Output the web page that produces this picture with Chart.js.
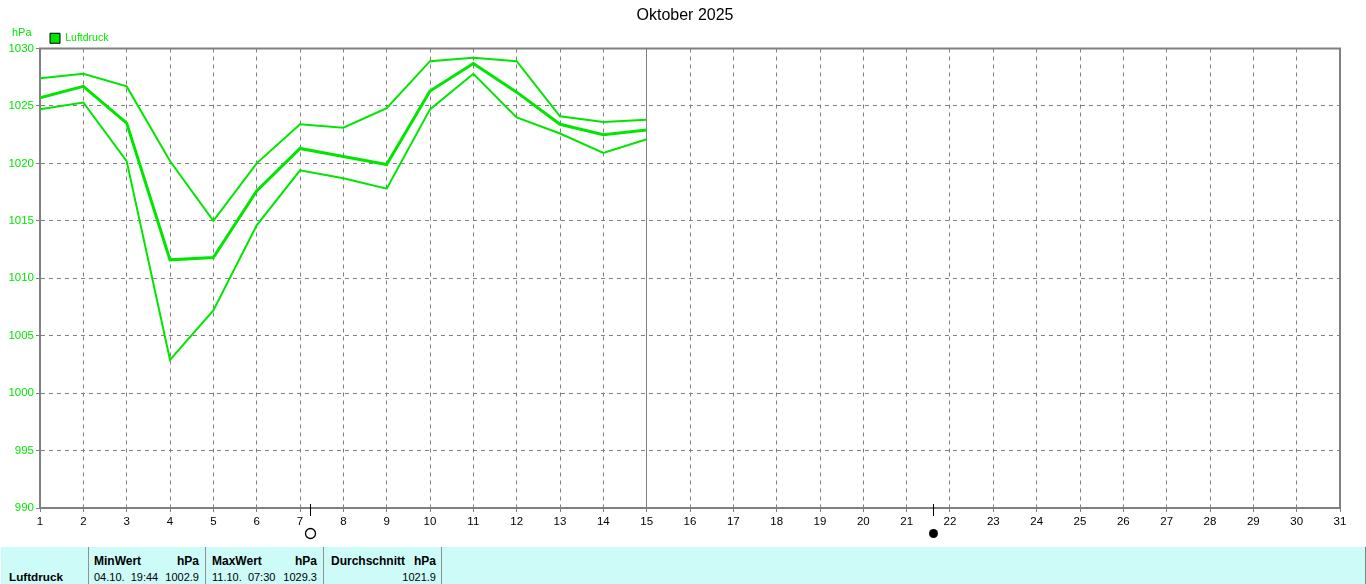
<!DOCTYPE html>
<html lang="de">
<head>
<meta charset="utf-8">
<title>Oktober 2025</title>
<script src="https://cdn.jsdelivr.net/npm/chart.js@4"></script>
<style>
    html, body { margin: 0; padding: 0; background: #ffffff; overflow: hidden; }
    #wrap { position: absolute; left: 0; top: 0; width: 1366px; height: 545px; }
    #strip {
        position: absolute; left: 1px; top: 547px; width: 1364px; height: 37px;
        background: #ccfbf8; border-right: 1px solid #808080;
        font-family: "Liberation Sans", Arial, sans-serif; font-size: 11px; color: #000000;
    }
    .cell { position: absolute; top: 0; height: 37px; border-right: 1px solid #909090; }
    .head { position: absolute; top: 7px; font-size: 12px; font-weight: bold; white-space: nowrap; }
    .val { position: absolute; top: 24px; white-space: nowrap; }
</style>
</head>
<body>
<div id="wrap"><canvas id="chart" width="1366" height="545"></canvas></div>
<div id="strip"></div>
<script>
'use strict';

// Section 1: data
const titleText = "Oktober 2025";
const unitText = "hPa";
const seriesName = "Luftdruck";
const days = [1, 2, 3, 4, 5, 6, 7, 8, 9, 10, 11, 12, 13, 14, 15];
const maxValues = [1027.4, 1027.8, 1026.7, 1020.2, 1015.0, 1020.0, 1023.4, 1023.1, 1024.8, 1028.9, 1029.2, 1028.9, 1024.1, 1023.6, 1023.8];
const avgValues = [1025.7, 1026.7, 1023.5, 1011.6, 1011.8, 1017.6, 1021.3, 1020.6, 1019.9, 1026.3, 1028.7, 1026.2, 1023.4, 1022.5, 1022.9];
const minValues = [1024.7, 1025.3, 1020.2, 1002.9, 1007.2, 1014.6, 1019.4, 1018.7, 1017.8, 1024.7, 1027.8, 1024.0, 1022.6, 1020.9, 1022.1];
const currentDay = 15;
const moonDays = [7.23, 21.61];
const moonKinds = ["full", "new"];

const summaryHeads = ["MinWert", "MaxWert", "Durchschnitt"];
const summaryDates = ["04.10.  19:44", "11.10.  07:30", ""];
const summaryValues = ["1002.9", "1029.3", "1021.9"];

const GREEN = "#00e600";
const GRAY = "#808080";
const FONT = "Liberation Sans";

function toPoints(values) {
    return values.map((value, i) => ({x: days[i], y: value}));
}

// Section 2: bits the library does not draw by itself
const framePlugin = {
    id: "frame",
    afterLayout(chart) {
        // title is centred on the whole page, legend sits right of the unit
        chart.titleBlock.left += 13;
        chart.titleBlock.right += 13;
        chart.titleBlock.top += 1;
        chart.legend.left = 46;
        chart.legend.top += 5;
    },
    beforeDatasetsDraw(chart) {
        const {ctx, chartArea, scales} = chart;
        ctx.save();
        ctx.strokeStyle = GRAY;
        ctx.lineWidth = 1;
        const dayX = Math.round(scales.x.getPixelForValue(currentDay) - 0.5) + 0.5;
        ctx.beginPath();
        ctx.moveTo(dayX, chartArea.top);
        ctx.lineTo(dayX, chartArea.bottom);
        ctx.stroke();
        ctx.lineWidth = 2;
        ctx.strokeRect(chartArea.left, chartArea.top, chartArea.width, chartArea.height);
        ctx.restore();
    },
    afterDraw(chart) {
        const {ctx, chartArea, scales} = chart;
        ctx.save();
        ctx.fillStyle = GREEN;
        ctx.font = `11px "${FONT}"`;
        ctx.textAlign = "left";
        ctx.textBaseline = "middle";
        ctx.fillText(unitText, 12, 33);

        // moon phases under the axis
        moonDays.forEach((day, i) => {
            const mx = Math.round(scales.x.getPixelForValue(day)) + 0.5;
            ctx.strokeStyle = "#000000";
            ctx.lineWidth = 1;
            ctx.beginPath();
            ctx.moveTo(mx, chartArea.bottom - 4);
            ctx.lineTo(mx, chartArea.bottom + 8);
            ctx.stroke();
            ctx.beginPath();
            if (moonKinds[i] === "full") {
                ctx.arc(mx, 533.5, 5, 0, 2 * Math.PI);
                ctx.lineWidth = 1.3;
                ctx.stroke();
            } else {
                ctx.arc(mx, 533.5, 4.5, 0, 2 * Math.PI);
                ctx.fillStyle = "#000000";
                ctx.fill();
            }
        });
        ctx.restore();
    },
};

// Section 3: chart
const lineChart = new Chart(document.querySelector("#chart"), {
    type: "line",
    data: {
        datasets: [
            {label: seriesName, data: toPoints(avgValues), borderColor: GREEN, backgroundColor: GREEN, borderWidth: 3},
            {label: "Max", data: toPoints(maxValues), borderColor: GREEN, backgroundColor: GREEN, borderWidth: 2},
            {label: "Min", data: toPoints(minValues), borderColor: GREEN, backgroundColor: GREEN, borderWidth: 2},
        ],
    },
    options: {
        responsive: false,
        animation: false,
        layout: {padding: {left: 4, right: 26, top: 0, bottom: 0}},
        elements: {
            point: {radius: 0},
            line: {tension: 0, borderJoinStyle: "miter", borderCapStyle: "butt"},
        },
        scales: {
            x: {
                type: "linear",
                min: 1,
                max: 31,
                afterFit: scale => { scale.height = 37; },
                afterBuildTicks: scale => { scale.ticks = Array.from({length: 31}, (_, i) => ({value: i + 1})); },
                grid: {color: GRAY, lineWidth: 1, tickLength: 4, tickColor: GRAY, tickBorderDash: []},
                border: {color: GRAY, width: 2, dash: [4, 4]},
                ticks: {
                    color: "#000000",
                    padding: 3,
                    autoSkip: false,
                    maxRotation: 0,
                    font: {family: FONT, size: 11.5},
                    callback: value => `${value}`,
                },
            },
            y: {
                min: 990,
                max: 1030,
                afterFit: scale => { scale.width = 36; },
                grid: {color: GRAY, lineWidth: 1, tickLength: 4, tickColor: GRAY, tickBorderDash: []},
                border: {color: GRAY, width: 2, dash: [4, 4]},
                ticks: {
                    stepSize: 5,
                    color: GREEN,
                    padding: 2,
                    font: {family: FONT, size: 11.5},
                    callback: value => `${value}`,
                },
            },
        },
        plugins: {
            title: {
                display: true,
                text: titleText,
                color: "#000000",
                font: {family: FONT, size: 16, weight: "normal"},
                padding: {top: 4.8, bottom: 0},
            },
            legend: {
                display: true,
                position: "top",
                align: "start",
                labels: {
                    generateLabels: chart => [{
                        text: seriesName,
                        fillStyle: GREEN,
                        strokeStyle: "#000000",
                        lineWidth: 1,
                        fontColor: GREEN,
                        datasetIndex: 0,
                    }],
                    boxWidth: 10,
                    boxHeight: 10,
                    padding: 4,
                    font: {family: FONT, size: 10.5},
                },
            },
            tooltip: {enabled: false},
        },
    },
    plugins: [framePlugin],
});

// Section 4: summary strip under the chart
const strip = document.querySelector("#strip");
const cellEdges = [88, 205, 323, 441];
const headLeft = [93, 211, 330];
const unitRight = [198, 316, 435];

function addText(className, text, css) {
    const el = document.createElement("div");
    el.className = className;
    el.textContent = text;
    Object.assign(el.style, css);
    strip.appendChild(el);
}

cellEdges.forEach(edge => {
    const sep = document.createElement("div");
    sep.className = "cell";
    sep.style.left = `${edge - 1}px`;
    strip.appendChild(sep);
});

addText("head", seriesName, {left: "8px", top: "23px", fontSize: "11.7px"});
summaryHeads.forEach((head, i) => {
    addText("head", head, {left: `${headLeft[i]}px`});
    addText("head", unitText, {right: `${1364 - unitRight[i]}px`});
    addText("val", summaryDates[i], {left: `${headLeft[i]}px`, whiteSpace: "pre"});
    addText("val", summaryValues[i], {right: `${1364 - unitRight[i]}px`});
});
</script>
</body>
</html>
